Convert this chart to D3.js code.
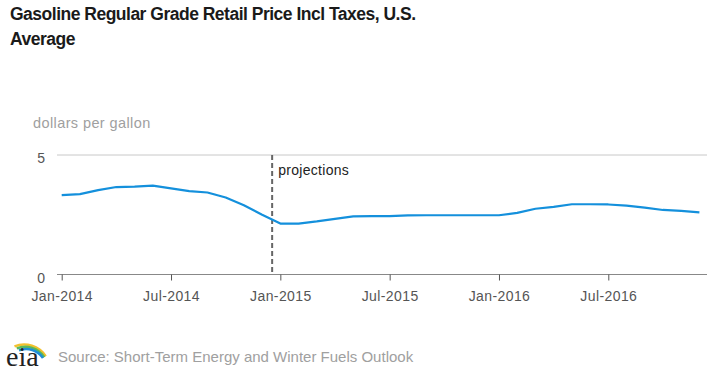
<!DOCTYPE html>
<html>
<head>
<meta charset="UTF-8">
<title>Gasoline price</title>
<script src="https://cdn.jsdelivr.net/npm/d3@7"></script>
<style>
  body { margin: 0; background: #fff; }
  svg text { font-family: "Liberation Sans", Arial, sans-serif; }
</style>
</head>
<body>
<svg width="720" height="374"></svg>
<script>
// monthly values, Jan-2014 .. Dec-2016
var months = d3.range(36);
var prices = [3.32, 3.36, 3.53, 3.66, 3.68, 3.72, 3.60, 3.49, 3.43, 3.22, 2.90, 2.50,
              2.13, 2.13, 2.22, 2.33, 2.43, 2.44, 2.44, 2.47, 2.48, 2.48, 2.48, 2.48,
              2.48, 2.58, 2.75, 2.83, 2.94, 2.94, 2.93, 2.88, 2.80, 2.70, 2.66, 2.60];
var tickMonths = [0, 6, 12, 18, 24, 30];
var tickLabels = ["Jan-2014", "Jul-2014", "Jan-2015", "Jul-2015", "Jan-2016", "Jul-2016"];
var yTicks = [0, 5];
var projectionStart = 11.55;

var svg = d3.select("svg");

var x = d3.scaleLinear().domain([0, 35]).range([61.7, 699.4]);
var y = d3.scaleLinear().domain([0, 5]).range([274.5, 155]);

// title
var title = svg.append("text")
  .attr("x", 10).attr("y", 20)
  .style("font-size", "17.5px").style("font-weight", "bold").style("fill", "#1a1a1a")
  .style("letter-spacing", "-0.5px");
title.append("tspan").attr("x", 10).attr("dy", 0).text("Gasoline Regular Grade Retail Price Incl Taxes, U.S.");
title.append("tspan").attr("x", 10).attr("dy", 25).text("Average");

svg.append("text")
  .attr("x", 33).attr("y", 128)
  .style("font-size", "14.5px").style("fill", "#a0a0a0")
  .style("letter-spacing", "0.4px")
  .text("dollars per gallon");

// grid line at 5
svg.append("line")
  .attr("x1", 57).attr("x2", 707)
  .attr("y1", y(5)).attr("y2", y(5))
  .attr("stroke", "#c8c8c8").attr("stroke-width", 1);

// y labels
svg.selectAll(".ylab")
  .data(yTicks)
  .enter().append("text")
  .attr("class", "ylab")
  .attr("x", 45).attr("y", function(d){ return y(d) + 8; })
  .attr("text-anchor", "end")
  .style("font-size", "14px").style("fill", "#555")
  .text(function(d){ return d; });

// x axis
var xAxis = d3.axisBottom(x)
  .tickValues(tickMonths)
  .tickFormat(function(d, i){ return tickLabels[i]; })
  .tickSize(6)
  .tickSizeOuter(0);

var gx = svg.append("g")
  .attr("transform", "translate(0," + y(0) + ")")
  .call(xAxis);
gx.select(".domain").remove();
gx.insert("line", ":first-child")
  .attr("x1", 57).attr("x2", 707)
  .attr("stroke", "#888").attr("stroke-width", 1.2);
gx.selectAll(".tick line").attr("stroke", "#555");
gx.selectAll(".tick text")
  .attr("dy", null).attr("y", 26.5)
  .style("font-size", "14px").style("fill", "#555")
  .style("letter-spacing", "0.4px")
  .style("font-family", "Liberation Sans, Arial, sans-serif");

// projections divider
svg.append("line")
  .attr("x1", x(projectionStart)).attr("x2", x(projectionStart))
  .attr("y1", 155).attr("y2", 274)
  .attr("stroke", "#666").attr("stroke-width", 2)
  .attr("stroke-dasharray", "5,3");

svg.append("text")
  .attr("x", x(projectionStart) + 6).attr("y", 175)
  .style("font-size", "14px").style("fill", "#222")
  .style("letter-spacing", "0.3px")
  .text("projections");

// line
var line = d3.line()
  .x(function(d){ return x(d); })
  .y(function(d){ return y(prices[d]); });

svg.append("path")
  .datum(months)
  .attr("d", line)
  .attr("fill", "none")
  .attr("stroke", "#1490dc")
  .attr("stroke-width", 2.2)
  .attr("stroke-linejoin", "round");

// eia logo
var logo = svg.append("g");
var arcs = [
  {color: "#f2c12e", r: 26},
  {color: "#5cb85c", r: 23},
  {color: "#1f8fd6", r: 20}
];
logo.selectAll("path")
  .data(arcs)
  .enter().append("path")
  .attr("d", function(d){
    var cx = 34, cy = 364;
    return "M" + (cx - d.r * 0.75) + "," + (cy - d.r * 0.68) +
           " A" + d.r + "," + d.r + " 0 0 1 " + (cx + d.r * 0.45) + "," + (cy - d.r * 0.3) ;
  })
  .attr("fill", "none")
  .attr("stroke", function(d){ return d.color; })
  .attr("stroke-width", 2.5);
logo.append("text")
  .attr("x", 6).attr("y", 366)
  .style("font-family", "Liberation Serif, serif")
  .style("font-size", "28px").style("fill", "#222")
  .text("eia");

svg.append("text")
  .attr("x", 58).attr("y", 362)
  .style("font-size", "15px").style("fill", "#a0a0a0")
  .text("Source: Short-Term Energy and Winter Fuels Outlook");
</script>
</body>
</html>
